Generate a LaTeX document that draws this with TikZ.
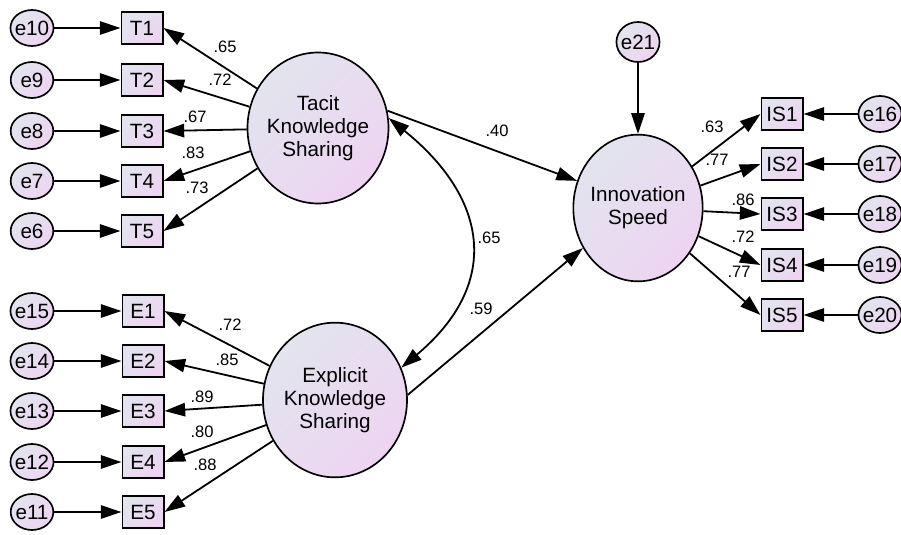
\documentclass[tikz,border=0pt]{standalone}
\usepackage{fontspec}
\setmainfont{Liberation Sans}
\usetikzlibrary{arrows.meta,shapes.geometric}
\definecolor{shadeTop}{RGB}{226,228,238}
\definecolor{shadeBot}{RGB}{238,212,242}
\tikzset{
  shaded/.style={draw, line width=1.25pt, top color=shadeTop, bottom color=shadeBot, shading angle=45},
  obs/.style={shaded, rectangle, minimum width=31pt, minimum height=24pt, inner sep=0pt, font=\fontsize{15.5}{17}\selectfont},
  err/.style={shaded, ellipse, minimum width=32pt, minimum height=27pt, inner xsep=-1.5pt, inner ysep=0pt, font=\fontsize{15.5}{17}\selectfont},
  lat/.style={shaded, ellipse, align=center, inner xsep=-2.5pt, inner ysep=0pt, font=\fontsize{15.5}{17.25}\selectfont},
  coef/.style={inner sep=0pt, font=\fontsize{12.4}{14}\selectfont},
  arr/.style={line width=1.35pt, -{Triangle[length=15.5pt,width=10pt]}},
  biarr/.style={line width=1.35pt, {Triangle[length=15.5pt,width=10pt]}-{Triangle[length=15.5pt,width=10pt]}}
}
\begin{document}
\begin{tikzpicture}[x=0.75pt,y=-0.75pt]
    \useasboundingbox (0,0) rectangle (901,535);

    \node[lat, minimum width=105.75pt, minimum height=113.25pt] (tacit) at (318,128) {Tacit\\Knowledge\\Sharing};
    \node[lat, minimum width=108pt, minimum height=116pt] (expl) at (335,400) {Explicit\\Knowledge\\Sharing};
    \node[lat, minimum width=97pt, minimum height=110pt] (innov) at (638,208) {Innovation\\Speed};

    \node[err] (e10) at (32,28) {e10};
    \node[err] (e9) at (32,80) {e9};
    \node[err] (e8) at (32,131) {e8};
    \node[err] (e7) at (32,181) {e7};
    \node[err] (e6) at (32,231) {e6};
    \node[obs] (T1) at (142,28) {T1};
    \node[obs] (T2) at (142,80) {T2};
    \node[obs] (T3) at (142,131) {T3};
    \node[obs] (T4) at (142,181) {T4};
    \node[obs] (T5) at (142,231) {T5};

    \node[err] (e15) at (32,311) {e15};
    \node[err] (e14) at (32,361) {e14};
    \node[err] (e13) at (32,411) {e13};
    \node[err] (e12) at (32,462) {e12};
    \node[err] (e11) at (32,512) {e11};
    \node[obs] (E1) at (143,311) {E1};
    \node[obs] (E2) at (143,361) {E2};
    \node[obs] (E3) at (143,411) {E3};
    \node[obs] (E4) at (143,462) {E4};
    \node[obs] (E5) at (143,512) {E5};

    \node[err, minimum height=30pt] (e21) at (638,42) {e21};
    \node[obs] (IS1) at (782,114) {IS1};
    \node[obs] (IS2) at (782,164) {IS2};
    \node[obs] (IS3) at (782,214) {IS3};
    \node[obs] (IS4) at (782,265) {IS4};
    \node[obs] (IS5) at (782,315) {IS5};
    \node[err] (e16) at (880,114) {e16};
    \node[err] (e17) at (880,164) {e17};
    \node[err] (e18) at (880,214) {e18};
    \node[err] (e19) at (880,265) {e19};
    \node[err] (e20) at (880,315) {e20};

    \draw[arr] (e10) -- (T1);
    \draw[arr] (e9) -- (T2);
    \draw[arr] (e8) -- (T3);
    \draw[arr] (e7) -- (T4);
    \draw[arr] (e6) -- (T5);
    \draw[arr] (e15) -- (E1);
    \draw[arr] (e14) -- (E2);
    \draw[arr] (e13) -- (E3);
    \draw[arr] (e12) -- (E4);
    \draw[arr] (e11) -- (E5);
    \draw[arr] (e16) -- (IS1);
    \draw[arr] (e17) -- (IS2);
    \draw[arr] (e18) -- (IS3);
    \draw[arr] (e19) -- (IS4);
    \draw[arr] (e20) -- (IS5);
    \draw[arr] (e21) -- (innov);

    \draw[arr] (tacit) -- (T1.east);
    \draw[arr] (tacit) -- (T2.east);
    \draw[arr] (tacit) -- (T3.east);
    \draw[arr] (tacit) -- (T4.east);
    \draw[arr] (tacit) -- (T5.east);
    \draw[arr] (expl) -- (E1.east);
    \draw[arr] (expl) -- (E2.east);
    \draw[arr] (expl) -- (E3.east);
    \draw[arr] (expl) -- (E4.east);
    \draw[arr] (expl) -- (E5.east);
    \draw[arr] (innov) -- (IS1.west);
    \draw[arr] (innov) -- (IS2.west);
    \draw[arr] (innov) -- (IS3.west);
    \draw[arr] (innov) -- (IS4.west);
    \draw[arr] (innov) -- (IS5.west);

    \draw[arr] (tacit.14) -- (innov.156);
    \draw[arr] (expl.4) -- (innov.216);
    \draw[biarr] (tacit.8) .. controls (490,200) and (500,285) .. (expl.26);

    \node[coef] (lT1) at (225,47) {.65};
    \node[coef] (lT2) at (220,80) {.72};
    \node[coef] (lT3) at (195,117) {.67};
    \node[coef] (lT4) at (193,153) {.83};
    \node[coef] (lT5) at (197,188) {.73};
    \node[coef] (lE1) at (230,325) {.72};
    \node[coef] (lE2) at (227,360) {.85};
    \node[coef] (lE3) at (202,397) {.89};
    \node[coef] (lE4) at (202,432) {.80};
    \node[coef] (lE5) at (205,465) {.88};
    \node[coef] (lIS1) at (712,127) {.63};
    \node[coef] (lIS2) at (717,160) {.77};
    \node[coef] (lIS3) at (743,200) {.86};
    \node[coef] (lIS4) at (743,237) {.72};
    \node[coef] (lIS5) at (739,272) {.77};
    \node[coef] (lTI) at (497,131) {.40};
    \node[coef] (lcov) at (489,238) {.65};
    \node[coef] (lEI) at (481,309) {.59};
\end{tikzpicture}
\end{document}
